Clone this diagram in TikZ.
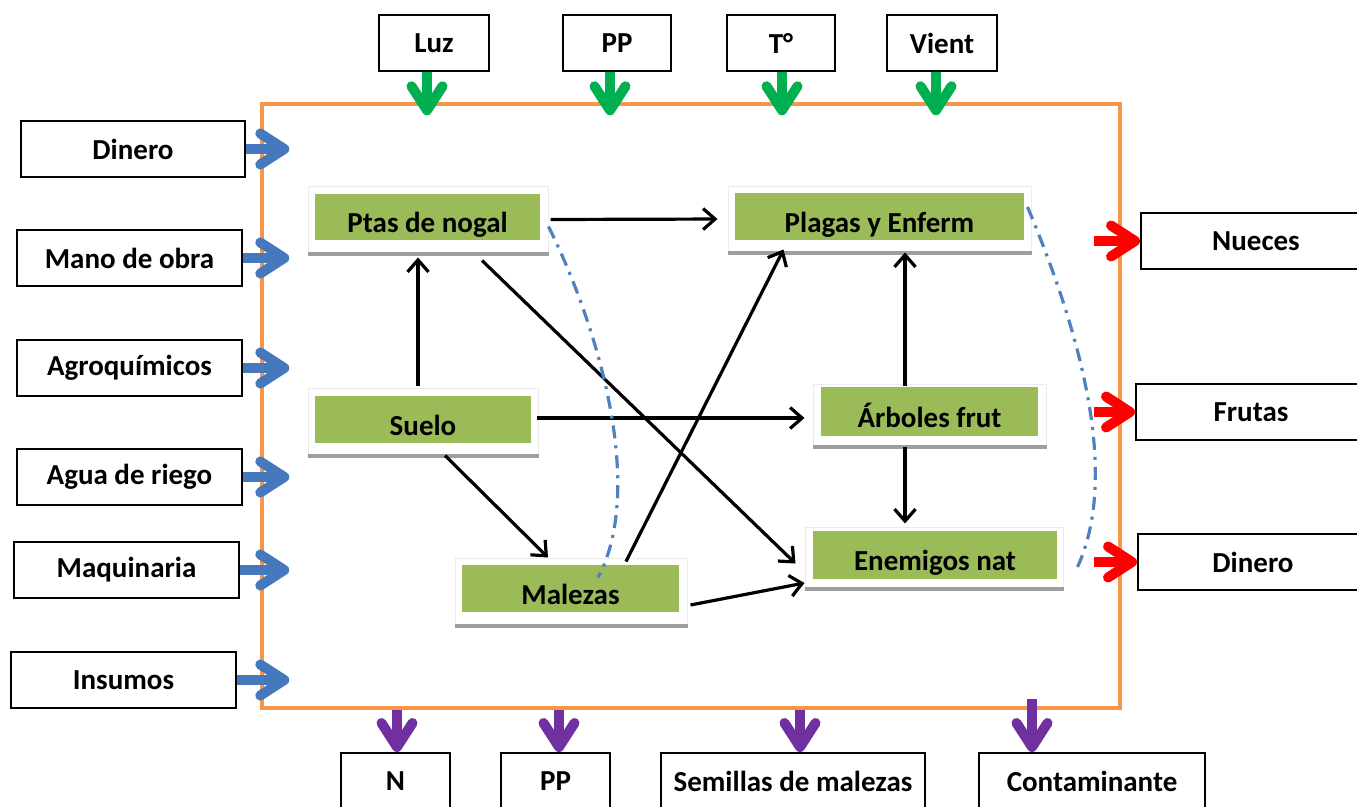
\documentclass[tikz,border=0pt]{standalone}
\usepackage{fontspec}
\setmainfont{Carlito}
\usetikzlibrary{arrows.meta}
\definecolor{frameorange}{RGB}{247,150,70}
\definecolor{boxgreen}{RGB}{155,187,89}
\definecolor{inblue}{RGB}{70,120,190}
\definecolor{climgreen}{RGB}{0,176,80}
\definecolor{outred}{RGB}{255,0,0}
\definecolor{losspurple}{RGB}{112,48,160}
\definecolor{dashblue}{RGB}{79,129,189}

\tikzset{
  labelfont/.style={font=\bfseries\fontsize{29}{33}\selectfont},
  wbox/.style={draw=black, line width=2pt, fill=white, minimum height=56pt, inner sep=0pt, labelfont},
  gframe/.style={draw=black!8, line width=1pt, fill=white, inner sep=0pt},
  gbox/.style={fill=boxgreen, inner sep=0pt, text height=31pt, text depth=0pt, labelfont},
  gshadow/.style={draw=black!38, line width=4pt},
  flow/.style={draw=black, line width=3.2pt, -{Straight Barb[length=12pt,width=21pt]}},
  blockarr/.style={line width=10pt, -{Straight Barb[length=24pt,width=31pt,round]}},
  link/.style={draw=dashblue, line width=3.2pt, dash pattern=on 13pt off 7pt on 3pt off 7pt}
}

\begin{document}
\begin{tikzpicture}[x=1pt,y=-1pt]
  \useasboundingbox (0,0) rectangle (1357,806);

  % system boundary
  \node[draw=frameorange, line width=3.5pt, minimum width=858pt, minimum height=604pt] (sys) at (691,406) {};

  % climate inputs
  \node[wbox, minimum width=110pt] (luz) at (434,43) {Luz};
  \node[wbox, minimum width=108pt] (pp) at (617,43) {PP};
  \node[wbox, minimum width=108pt] (temp) at (781,43) {T°};
  \node[wbox, minimum width=110pt] (vient) at (942,43) {Vient};

  % managed inputs
  \node[wbox, minimum width=224pt] (dinero) at (133,149) {Dinero};
  \node[wbox, minimum width=225pt] (mano) at (129.5,258) {Mano de obra};
  \node[wbox, minimum width=225pt] (agro) at (129.5,368) {Agroquímicos};
  \node[wbox, minimum width=225pt] (agua) at (129.5,477) {Agua de riego};
  \node[wbox, minimum width=225pt] (maq) at (126.5,570) {Maquinaria};
  \node[wbox, minimum width=225pt] (insumos) at (123.5,680) {Insumos};

  % outputs
  \node[wbox, minimum width=230pt] (nueces) at (1256,241) {Nueces};
  \node[wbox, minimum width=230pt] (frutas) at (1251,412) {Frutas};
  \node[wbox, minimum width=230pt] (ganancia) at (1253,562) {Dinero};

  % losses
  \node[wbox, minimum width=109pt] (nitro) at (395.5,781) {N};
  \node[wbox, minimum width=109pt] (ppout) at (555.5,781) {PP};
  \node[wbox, minimum width=264pt] (semillas) at (793,781) {Semillas de malezas};
  \node[wbox, minimum width=226pt] (contam) at (1092,781) {Contaminante};

  % components
  \node[gframe, minimum width=240pt, minimum height=67pt] (ptasF) at (428,219.5) {};
  \node[gframe, minimum width=303pt, minimum height=66pt] (plagasF) at (879.5,219) {};
  \node[gframe, minimum width=230pt, minimum height=67pt] (sueloF) at (423,421.5) {};
  \node[gframe, minimum width=233pt, minimum height=62pt] (arbF) at (929.5,415) {};
  \node[gframe, minimum width=258pt, minimum height=61pt] (enemF) at (934,557.5) {};
  \node[gframe, minimum width=232pt, minimum height=67pt] (malF) at (571,591.5) {};
  \foreach \n in {ptasF,plagasF,sueloF,arbF,enemF,malF}
    \draw[gshadow] (\n.south west) -- (\n.south east);

  \node[gbox, minimum width=225pt, minimum height=46pt] (ptas) at (427.5,217) {Ptas de nogal};
  \node[gbox, minimum width=289pt, minimum height=47pt] (plagas) at (879.5,216.5) {Plagas y Enferm};
  \node[gbox, minimum width=216pt, minimum height=47pt] (suelo) at (423,419.5) {Suelo};
  \node[gbox, minimum width=217pt, minimum height=49pt] (arb) at (929.5,411.5) {Árboles frut};
  \node[gbox, minimum width=244pt, minimum height=48pt] (enem) at (935,555) {Enemigos nat};
  \node[gbox, minimum width=217pt, minimum height=47pt] (mal) at (570.5,588.5) {Malezas};

  % flows between components
  \draw[flow, shorten <=2pt, shorten >=10pt] (ptasF.east) -- (plagasF.west);
  \draw[flow, shorten <=2pt, shorten >=4pt] ([xshift=-5pt]sueloF.north) -- ([xshift=-5pt]sueloF.north |- ptasF.south);
  \draw[flow, shorten <=-2pt, shorten >=8pt] ([yshift=3.5pt]sueloF.east) -- ([yshift=3.5pt]sueloF.east -| arbF.west);
  \draw[flow] ([xshift=22pt]sueloF.south) -- ([xshift=-23pt]malF.north);
  \draw[flow] ([xshift=54pt,yshift=-7pt]ptasF.south) -- ([xshift=-9pt,yshift=-6pt]enemF.west);
  \draw[flow] ([xshift=55pt,yshift=-4pt]malF.north) -- ([xshift=-96pt,yshift=3pt]plagasF.south);
  \draw[flow] ([xshift=3pt,yshift=-13.5pt]malF.east) -- ([yshift=-25.5pt]enemF.west);
  \draw[flow, shorten <=-2pt] ([xshift=-24.5pt]arbF.north) -- ([xshift=-24.5pt]arbF.north |- plagasF.south);
  \draw[flow, shorten >=3pt] ([xshift=-24.5pt]arbF.south) -- ([xshift=-24.5pt]arbF.south |- enemF.north);

  % links
  \draw[link] ([yshift=-7pt]ptasF.east) .. controls (600,330) and (645,490) .. ([xshift=27pt,yshift=-20pt]malF.north);
  \draw[link] ([xshift=-4pt,yshift=12pt]plagasF.east) .. controls (1075,320) and (1122,470) .. ([xshift=14pt,yshift=-9.5pt]enemF.east);

  % climate arrows
  \foreach \n/\dx in {luz/-7,pp/-7,temp/1,vient/-6}
    \draw[blockarr, climgreen, shorten >=-13pt] ([xshift=\dx pt]\n.south) -- ([xshift=\dx pt]\n.south |- sys.north);

  % input arrows
  \foreach \n in {dinero,mano,agro,agua,maq,insumos}
    \draw[blockarr, inblue, shorten >=-29pt] (\n.east) -- (\n.east -| sys.west);

  % output arrows
  \foreach \n in {nueces,frutas,ganancia}
    \draw[blockarr, outred, shorten <=-28pt] (\n.west -| sys.east) -- (\n.west);

  % loss arrows
  \foreach \n/\dx/\ext in {nitro/1.5/0,ppout/3.5/0,semillas/7/0,contam/-60/11}
    \draw[blockarr, losspurple, shorten <=-\ext pt] ([xshift=\dx pt]\n.north |- sys.south) -- ([xshift=\dx pt]\n.north);
\end{tikzpicture}
\end{document}
